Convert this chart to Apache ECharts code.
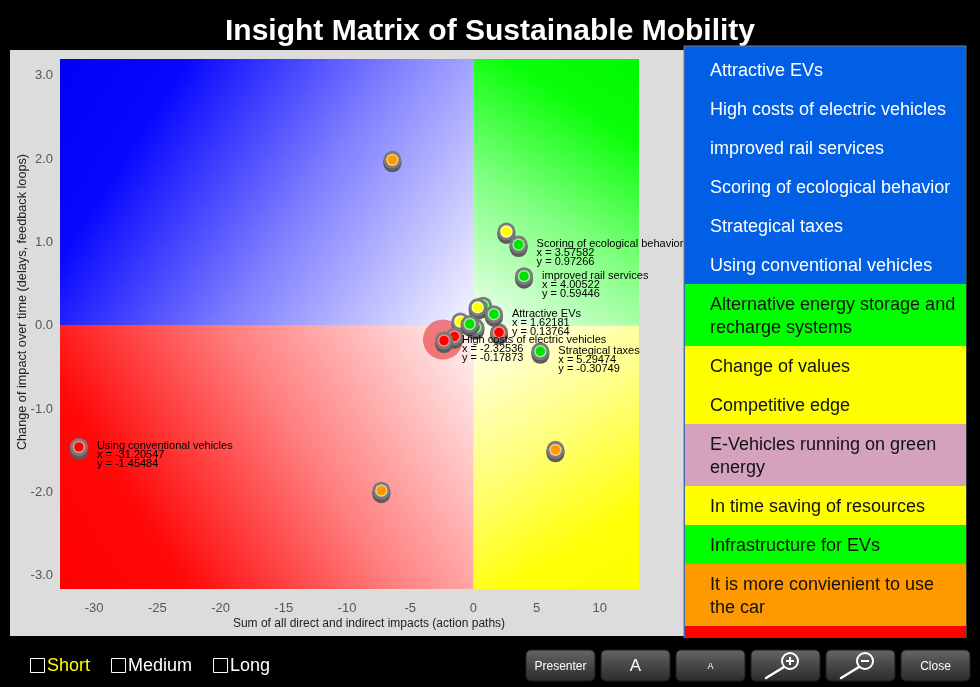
<!DOCTYPE html>
<html>
<head>
<meta charset="utf-8">
<script src="https://cdn.jsdelivr.net/npm/echarts@6/dist/echarts.min.js"></script>
<style>
html,body{margin:0;padding:0;background:#000;overflow:hidden;}
#c{width:980px;height:687px;}
</style>
</head>
<body>
<div id="c"></div>
<script>
// ---------------- data ----------------
const titleText = 'Insight Matrix of Sustainable Mobility';
const xAxisName = 'Sum of all direct and indirect impacts (action paths)';
const yAxisName = 'Change of impact over time (delays, feedback loops)';

// scatter points (unlabeled first, labeled on top)
const pointNames = ['', '', '', '', '', '', '', '', '', '', '',
  'Using conventional vehicles', 'Scoring of ecological behavior', 'improved rail services',
  'Attractive EVs', 'High costs of electric vehicles', 'Strategical taxes'];
const pointX = [0.77, 0.34, -1.03, 0.16, -0.29, -1.50, 2.03, 2.61, -6.41, 6.49, -7.28,
  -31.20547, 3.57582, 4.00522, 1.62181, -2.32536, 5.29474];
const pointY = [0.24, 0.22, 0.05, -0.02, 0.02, -0.13, -0.08, 1.13, 1.99, -1.49, -1.98,
  -1.45484, 0.97266, 0.59446, 0.13764, -0.17873, -0.30749];
const pointColor = ['green', 'yellow', 'yellow', 'green', 'green', 'red', 'red', 'yellow', 'orange', 'orange', 'orange',
  'red', 'green', 'green', 'green', 'red', 'green'];
const highlightedPoint = 'High costs of electric vehicles';
const quadrantOrigin = [0, 0];

// side list
const listNames = ['Attractive EVs', 'High costs of electric vehicles', 'improved rail services',
  'Scoring of ecological behavior', 'Strategical taxes', 'Using conventional vehicles',
  'Alternative energy storage and recharge systems', 'Change of values', 'Competitive edge',
  'E-Vehicles running on green energy', 'In time saving of resources', 'Infrastructure for EVs',
  'It is more convienient to use the car', 'Lobbying of the conventional car industry'];
const listColors = ['blue', 'blue', 'blue', 'blue', 'blue', 'blue',
  'green', 'yellow', 'yellow', 'pink', 'yellow', 'green', 'orange', 'red'];

// bottom controls
const timeFilters = ['Short', 'Medium', 'Long'];
const activeFilter = 'Short';
const buttonLabels = ['Presenter', 'A', 'a', 'zoom-in', 'zoom-out', 'Close'];

// ---------------- styles ----------------
const FONT = '"Liberation Sans", Arial, Helvetica, sans-serif';
const dotColors = {
  red: { core: '#ff0000', ring: '#ff8c8c' },
  green: { core: '#00e000', ring: '#9cf09c' },
  yellow: { core: '#ffff00', ring: '#ffffaa' },
  orange: { core: '#ff9900', ring: '#ffc98a' }
};
const listFill = {
  blue: '#005fe5', green: '#00ff00', yellow: '#ffff00', pink: '#d4a2bd', orange: '#ff9900', red: '#ff0000'
};

const measureCtx = document.createElement('canvas').getContext('2d');
function wrapText(text, font, maxW) {
  measureCtx.font = font;
  const words = text.split(' ');
  const lines = [];
  let cur = '';
  for (const w of words) {
    const t = cur ? cur + ' ' + w : w;
    if (cur && measureCtx.measureText(t).width > maxW) { lines.push(cur); cur = w; }
    else cur = t;
  }
  if (cur) lines.push(cur);
  return lines;
}
function textWidth(text, font) { measureCtx.font = font; return measureCtx.measureText(text).width; }

function grad(x, y, x2, y2, stops) {
  return { type: 'linear', x: x, y: y, x2: x2, y2: y2,
    colorStops: stops.map(s => ({ offset: s[0], color: s[1] })) };
}

// ---------------- graphics ----------------
const graphics = [];
// chart grey background
graphics.push({ type: 'rect', z: 0, silent: true, shape: { x: 10, y: 50, width: 674, height: 586 }, style: { fill: '#dcdcdc' } });
// axis names
graphics.push({ type: 'text', z: 5, silent: true, x: 369, y: 624,
  style: { text: xAxisName, font: '12px ' + FONT, fill: '#222222', align: 'center', verticalAlign: 'middle' } });
graphics.push({ type: 'text', z: 5, silent: true, x: 22, y: 302, rotation: Math.PI / 2,
  style: { text: yAxisName, font: '12.7px ' + FONT, fill: '#222222', align: 'center', verticalAlign: 'middle' } });

// side panel
const PX = 684, PW = 282, PTOP = 46, PBOT = 638;
graphics.push({ type: 'rect', z: 40, silent: true, shape: { x: PX, y: PTOP, width: PW, height: PBOT - PTOP + 20 },
  style: { fill: listFill.blue, stroke: '#7a7a7a', lineWidth: 1 } });
let rowY = 50;
const itemFont = '18px ' + FONT;
listNames.forEach((name, i) => {
  const lines = wrapText(name, itemFont, 250);
  const h = 16 + 23 * lines.length;
  const c = listColors[i];
  graphics.push({ type: 'rect', z: 41, silent: true, shape: { x: PX + 1, y: rowY, width: PW - 1, height: h }, style: { fill: listFill[c] } });
  graphics.push({ type: 'text', z: 42, silent: true, x: 710, y: rowY + h / 2 + 2,
    style: { text: lines.join('\n'), font: itemFont, lineHeight: 23, fill: c === 'blue' ? '#ffffff' : '#111111', align: 'left', verticalAlign: 'middle' } });
  rowY += h;
});

// bottom bar (covers panel overflow)
graphics.push({ type: 'rect', z: 60, silent: true, shape: { x: 0, y: PBOT, width: 980, height: 687 - PBOT }, style: { fill: '#000' } });

// checkboxes
let cbx = 30;
const cbFont = '18px ' + FONT;
timeFilters.forEach(t => {
  graphics.push({ type: 'rect', z: 61, silent: true, shape: { x: cbx + 0.5, y: 658.5, width: 14, height: 14 }, style: { fill: 'none', stroke: '#ffffff', lineWidth: 1 } });
  graphics.push({ type: 'text', z: 61, silent: true, x: cbx + 17, y: 666,
    style: { text: t, font: cbFont, fill: t === activeFilter ? '#ffff00' : '#ffffff', align: 'left', verticalAlign: 'middle' } });
  cbx = cbx + 17 + textWidth(t, cbFont) + 21;
});

// buttons
buttonLabels.forEach((b, i) => {
  const bx = 526 + i * 75, by = 650, bw = 69, bh = 31;
  graphics.push({ type: 'rect', z: 61, silent: true, shape: { x: bx, y: by, width: bw, height: bh, r: 5 },
    style: { fill: grad(0, 0, 0, 1, [[0, '#666666'], [0.5, '#474747'], [1, '#2b2b2b']]), stroke: '#1c1c1c', lineWidth: 1 } });
  const cx = bx + bw / 2, cy = by + bh / 2;
  if (b === 'zoom-in' || b === 'zoom-out') {
    const mx = bx + 39, my = 661;
    graphics.push({ type: 'circle', z: 62, silent: true, shape: { cx: mx, cy: my, r: 8 }, style: { fill: 'none', stroke: '#fff', lineWidth: 2 } });
    graphics.push({ type: 'line', z: 62, silent: true, shape: { x1: mx - 4, y1: my, x2: mx + 4, y2: my }, style: { stroke: '#fff', lineWidth: 2 } });
    if (b === 'zoom-in') graphics.push({ type: 'line', z: 62, silent: true, shape: { x1: mx, y1: my - 4, x2: mx, y2: my + 4 }, style: { stroke: '#fff', lineWidth: 2 } });
    graphics.push({ type: 'line', z: 62, silent: true, shape: { x1: mx - 6, y1: my + 6, x2: mx - 24, y2: my + 17 }, style: { stroke: '#fff', lineWidth: 2.5, lineCap: 'round' } });
  } else {
    let txt = b, size = 12;
    if (b === 'A') size = 17;
    if (b === 'a') { txt = 'A'; size = 9; }
    graphics.push({ type: 'text', z: 62, silent: true, x: cx, y: cy + 1,
      style: { text: txt, font: size + 'px ' + FONT, fill: '#ffffff', align: 'center', verticalAlign: 'middle' } });
  }
});

// ---------------- series ----------------
const pointData = pointX.map((x, i) => [x, pointY[i], i]);
const labeledData = pointData.filter(d => pointNames[d[2]]);
const haloData = pointData.filter(d => pointNames[d[2]] === highlightedPoint);

function renderQuadrants(params, api) {
  const cs = params.coordSys;
  const o = api.coord([api.value(0), api.value(1)]);
  const L = cs.x, T = cs.y, R = cs.x + cs.width, B = cs.y + cs.height;
  const rect = (x0, y0, x1, y1, fill) => ({ type: 'rect', shape: { x: x0, y: y0, width: x1 - x0, height: y1 - y0 }, style: { fill: fill } });
  return { type: 'group', silent: true, children: [
    rect(L, T, o[0], o[1], grad(1, 1, 0, 0, [[0, '#f6f6ff'], [0.42, '#8080ff'], [0.78, '#0808ff'], [1, '#0000f4']])),
    rect(o[0], T, R, o[1], grad(0, 1, 1, 0, [[0, '#f4fff4'], [0.42, '#80ff80'], [0.78, '#08ff08'], [1, '#00f800']])),
    rect(L, o[1], o[0], B, grad(1, 0, 0, 1, [[0, '#fff4f4'], [0.42, '#ff8080'], [0.78, '#ff0808'], [1, '#ff0000']])),
    rect(o[0], o[1], R, B, grad(0, 0, 1, 1, [[0, '#fffff4'], [0.42, '#ffff80'], [0.78, '#ffff08'], [1, '#ffff00']]))
  ] };
}

function renderHalo(params, api) {
  const p = api.coord([api.value(0), api.value(1)]);
  return { type: 'circle', silent: true, shape: { cx: p[0] - 1, cy: p[1] - 1, r: 20 }, style: { fill: 'rgba(228,36,36,0.55)' } };
}

function renderPoint(params, api) {
  const p = api.coord([api.value(0), api.value(1)]);
  const col = dotColors[pointColor[api.value(2)]];
  return { type: 'group', silent: true, children: [
    { type: 'circle', shape: { cx: p[0], cy: p[1] + 3.5, r: 9 }, style: { fill: '#5c5c5c' } },
    { type: 'rect', shape: { x: p[0] - 9, y: p[1], width: 18, height: 3.5 }, style: { fill: '#5c5c5c' } },
    { type: 'circle', shape: { cx: p[0], cy: p[1], r: 9 }, style: { fill: '#7a7a7a' } },
    { type: 'circle', shape: { cx: p[0], cy: p[1], r: 6.2 }, style: { fill: col.ring } },
    { type: 'circle', shape: { cx: p[0], cy: p[1], r: 4.7 }, style: { fill: col.core } }
  ] };
}

function renderLabel(params, api) {
  const x = api.value(0), y = api.value(1), idx = api.value(2);
  const p = api.coord([x, y]);
  return { type: 'text', silent: true, x: p[0] + 18, y: p[1] - 5,
    style: { text: pointNames[idx] + '\nx = ' + x.toFixed(5) + '\ny = ' + y.toFixed(5),
      font: '11px ' + FONT, lineHeight: 9, fill: '#000000', align: 'left', verticalAlign: 'top' } };
}

const chart = echarts.init(document.getElementById('c'), null, { renderer: 'canvas' });
chart.setOption({
  backgroundColor: '#000000',
  animation: false,
  title: { text: titleText, left: 'center', top: 12,
    textStyle: { color: '#ffffff', fontSize: 30, fontWeight: 'bold', fontFamily: FONT } },
  grid: { left: 60, top: 59, right: 341, bottom: 98, containLabel: false },
  xAxis: {
    type: 'value', min: -32.7, max: 13.1, interval: 0.1,
    axisLine: { show: false }, axisTick: { show: false }, splitLine: { show: false },
    axisLabel: { color: '#555555', fontSize: 13, fontFamily: FONT, margin: 13,
      formatter: v => (Math.abs(v / 5 - Math.round(v / 5)) < 1e-6 ? String(Math.round(v) || 0) : '') }
  },
  yAxis: {
    type: 'value', min: -3.16, max: 3.2, interval: 0.04,
    axisLine: { show: false }, axisTick: { show: false }, splitLine: { show: false },
    axisLabel: { color: '#555555', fontSize: 13, fontFamily: FONT, margin: 7,
      formatter: v => (Math.abs(v - Math.round(v)) < 1e-6 ? (Math.round(v) + 0).toFixed(1) : '') }
  },
  series: [
    { type: 'custom', z: 1, renderItem: renderQuadrants, data: [quadrantOrigin], silent: true },
    { type: 'custom', z: 2, renderItem: renderHalo, data: haloData, silent: true },
    { type: 'custom', z: 3, renderItem: renderPoint, data: pointData, silent: true },
    { type: 'custom', z: 4, renderItem: renderLabel, data: labeledData, silent: true }
  ],
  graphic: graphics
});
</script>
</body>
</html>
